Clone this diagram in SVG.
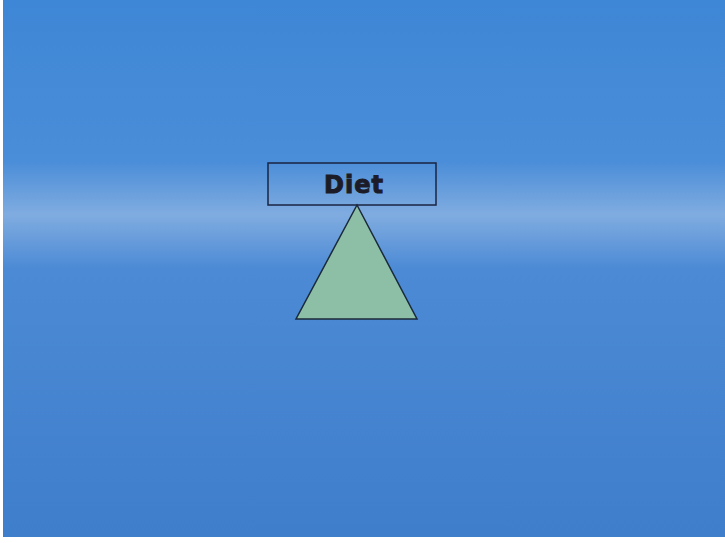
<svg xmlns="http://www.w3.org/2000/svg" width="725" height="543" viewBox="0 0 725 543">
<defs>
<linearGradient id="bg" x1="0" y1="0" x2="0" y2="1">
<stop offset="0" stop-color="#3e87d6"/>
<stop offset="0.3" stop-color="#4a8dd8"/>
<stop offset="0.4" stop-color="#80ace0"/>
<stop offset="0.5" stop-color="#4c8ad5"/>
<stop offset="1" stop-color="#3f7ecb"/>
</linearGradient>
<style>
.lbl{font-family:"DejaVu Sans","Liberation Sans",Arial,sans-serif;font-weight:900;font-size:24px;fill:#1c1c28;text-anchor:middle;letter-spacing:1px}
.box{fill:none;stroke:#1a2440;stroke-width:1.5}
.tri{fill:#8cbfa6;stroke:#1a2a3a;stroke-width:1.5}
</style>
</defs>
<rect width="725" height="543" fill="#ffffff"/>
<rect x="3" y="0" width="722" height="537" fill="url(#bg)"/>
<g id="diet">
<rect class="box" x="268" y="163" width="168" height="42"/>
<text class="lbl" x="354" y="193" stroke="#1c1c28" stroke-width="1">Diet</text>
</g>
<g id="fulcrum">
<polygon class="tri" points="357,205 417,319 296,319"/>
</g>
<g id="connectors"/>
</svg>
